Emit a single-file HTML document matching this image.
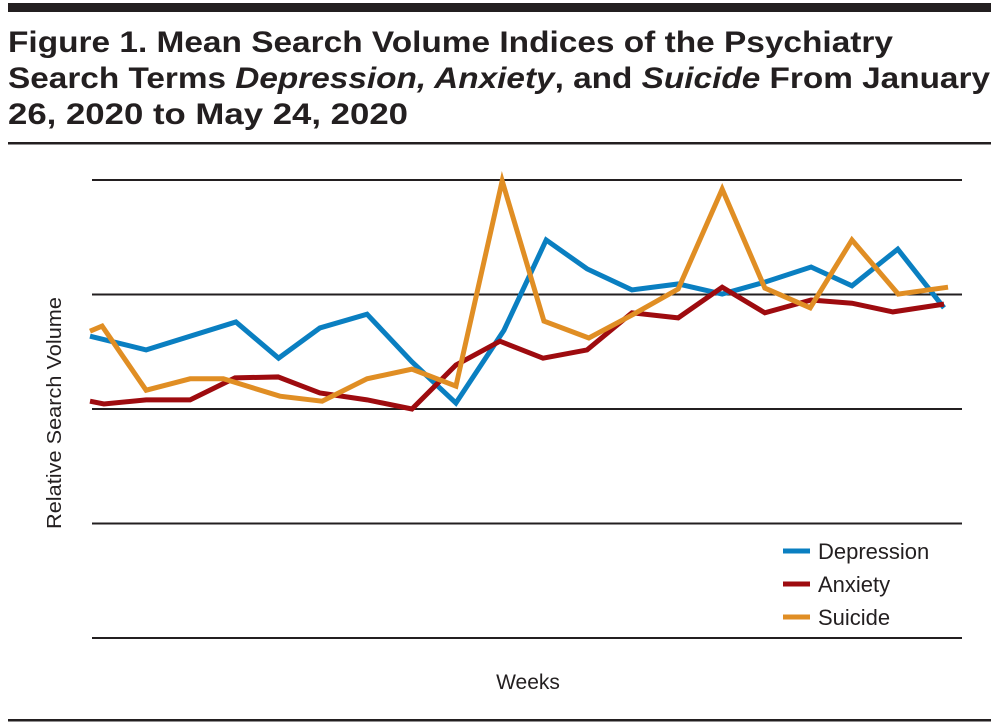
<!DOCTYPE html>
<html><head><meta charset="utf-8"><style>
html,body{margin:0;padding:0;background:#fff;}
svg{display:block;font-family:"Liberation Sans",sans-serif;}
</style></head><body>
<svg id="chart" width="999" height="728" viewBox="0 0 999 728">
<rect x="8" y="3" width="983" height="9" fill="#231f20"/>
<g font-weight="bold" font-size="30" fill="#231f20">
<text x="8" y="52" textLength="885" lengthAdjust="spacingAndGlyphs">Figure 1. Mean Search Volume Indices of the Psychiatry</text>
<text x="8" y="88" textLength="982" lengthAdjust="spacingAndGlyphs">Search Terms <tspan font-style="italic">Depression, Anxiety</tspan>, and <tspan font-style="italic">Suicide</tspan> From January</text>
<text x="8" y="124" textLength="400" lengthAdjust="spacingAndGlyphs">26, 2020 to May 24, 2020</text>
</g>
<rect x="8" y="142" width="983" height="2.5" fill="#231f20"/>
<rect x="8" y="719" width="983" height="2.5" fill="#231f20"/>
<g id="grid"></g>
<g id="lines"></g>
<text x="61" y="413" font-size="20" fill="#231f20" text-anchor="middle" textLength="232" lengthAdjust="spacingAndGlyphs" transform="rotate(-90 61 413)">Relative Search Volume</text>
<text x="528" y="689" font-size="21" fill="#231f20" text-anchor="middle">Weeks</text>
<g id="legend"></g>
</svg>
<script>
const yTicks = [0, 25, 50, 75, 100];
const depWeeks = [0,1.25,3.25,4.2,5.12,6.17,7.17,8.15,9.22,10.16,11.07,12.07,13.1,14.08,15.03,16.06,16.97,17.99,19.02];
const depValues = [65.9,62.9,69.0,61.1,67.7,70.7,60.3,51.3,67.2,86.9,80.6,76.0,77.3,75.1,77.7,81.0,76.9,84.9,72.1];
const anxWeeks = [0,0.31,1.25,2.23,3.23,4.19,5.12,6.17,7.17,8.15,9.13,10.09,11.07,12.07,13.1,14.08,15.03,16.06,16.97,17.88,19.02];
const anxValues = [51.7,51.1,52.0,52.0,56.8,57.0,53.5,52.0,50.0,59.6,64.8,61.1,62.9,71.0,69.9,76.6,71.0,73.8,73.1,71.2,72.9];
const suiWeeks = [0,0.27,1.25,2.23,2.97,4.23,5.17,6.17,7.17,8.15,9.18,10.11,11.11,12.07,13.1,14.08,15.03,16.04,16.97,18.0,19.11];
const suiValues = [67.0,68.1,54.1,56.6,56.6,52.8,51.7,56.6,58.7,55.0,99.8,69.2,65.5,70.5,76.2,98.0,76.4,72.1,86.9,75.1,76.6];
const seriesNames = ["Depression","Anxiety","Suicide"];
const seriesColors = ["#0a7fc1","#9e0b0f","#e08e24"];

const NS="http://www.w3.org/2000/svg";
const xS = w => 90 + w*44.9;
const yS = v => 638 - v*4.58;
const grid=document.getElementById('grid');
yTicks.forEach(t=>{
  const l=document.createElementNS(NS,'line');
  l.setAttribute('x1',92);l.setAttribute('x2',962);
  l.setAttribute('y1',yS(t));l.setAttribute('y2',yS(t));
  l.setAttribute('stroke','#231f20');l.setAttribute('stroke-width','2');
  
  
  grid.appendChild(l);
});
const all=[[depWeeks,depValues],[anxWeeks,anxValues],[suiWeeks,suiValues]];
const lines=document.getElementById('lines');
all.forEach((s,i)=>{
  const p=document.createElementNS(NS,'polyline');
  p.setAttribute('points',s[0].map((w,j)=>xS(w)+','+yS(s[1][j])).join(' '));
  p.setAttribute('fill','none');p.setAttribute('stroke',seriesColors[i]);
  p.setAttribute('stroke-width','5');p.setAttribute('stroke-linejoin','miter');
  
  
  lines.appendChild(p);
});
const lg=document.getElementById('legend');
seriesNames.forEach((n,i)=>{
  const y=551+i*33;
  const g=document.createElementNS(NS,'g');
  
  
  const l=document.createElementNS(NS,'line');
  l.setAttribute('x1',783);l.setAttribute('x2',810);l.setAttribute('y1',y);l.setAttribute('y2',y);
  l.setAttribute('stroke',seriesColors[i]);l.setAttribute('stroke-width','5');
  g.appendChild(l);
  const t=document.createElementNS(NS,'text');
  t.setAttribute('x',818);t.setAttribute('y',y+8);t.setAttribute('font-size','22');t.setAttribute('fill','#231f20');
  t.textContent=n;g.appendChild(t);
  lg.appendChild(g);
});
</script>
</body></html>
